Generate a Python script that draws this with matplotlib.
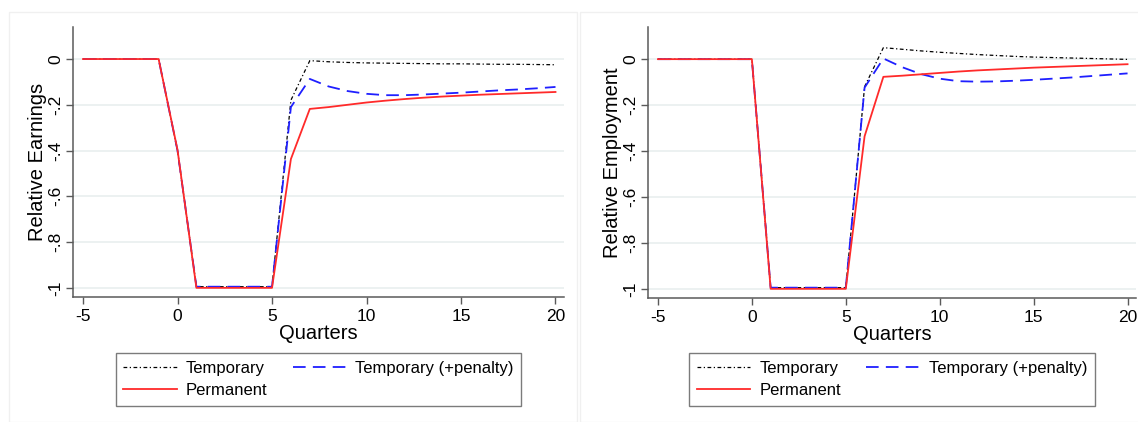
import numpy as np
import matplotlib
matplotlib.use("Agg")
import matplotlib.pyplot as plt
from matplotlib.patches import Rectangle

plt.rcParams['font.family'] = ['Liberation Sans', 'DejaVu Sans']
plt.rcParams['axes.unicode_minus'] = False

quarters = list(range(-5, 21))

# relative earnings
temp_earn = [0, 0, 0, 0, 0, -0.40, -0.995, -0.995, -0.995, -0.995, -0.995,
             -0.18, -0.007, -0.012, -0.015, -0.017, -0.018, -0.019, -0.020,
             -0.021, -0.021, -0.022, -0.023, -0.023, -0.024, -0.025]
pen_earn = [0, 0, 0, 0, 0, -0.40, -0.995, -0.995, -0.995, -0.995, -0.995,
            -0.21, -0.087, -0.120, -0.140, -0.152, -0.158, -0.158, -0.155,
            -0.151, -0.147, -0.142, -0.137, -0.133, -0.128, -0.122]
perm_earn = [0, 0, 0, 0, 0, -0.397, -1, -1, -1, -1, -1,
             -0.437, -0.218, -0.210, -0.200, -0.190, -0.182, -0.175, -0.169,
             -0.164, -0.160, -0.156, -0.153, -0.150, -0.147, -0.144]

# relative employment
temp_emp = [0, 0, 0, 0, 0, 0, -0.995, -0.995, -0.995, -0.995, -0.995,
            -0.12, 0.050, 0.043, 0.036, 0.030, 0.025, 0.020, 0.016,
            0.012, 0.009, 0.007, 0.005, 0.003, 0.001, -0.001]
pen_emp = [0, 0, 0, 0, 0, 0, -0.995, -0.995, -0.995, -0.995, -0.995,
           -0.124, 0.003, -0.035, -0.065, -0.085, -0.096, -0.098, -0.097,
           -0.094, -0.090, -0.085, -0.080, -0.074, -0.068, -0.062]
perm_emp = [0, 0, 0, 0, 0, 0, -1, -1, -1, -1, -1,
            -0.336, -0.077, -0.072, -0.066, -0.060, -0.054, -0.049, -0.045,
            -0.041, -0.037, -0.034, -0.031, -0.028, -0.025, -0.022]

yticks = [0, -0.2, -0.4, -0.6, -0.8, -1]
ytick_labels = ['0', '-.2', '-.4', '-.6', '-.8', '-1']
xticks = [-5, 0, 5, 10, 15, 20]

W, H = 1138, 422
fig = plt.figure(figsize=(W / 100, H / 100), dpi=100)

# faint panel frames
fig.patches.append(Rectangle((9 / W, 0), 568 / W, 1 - 12 / H, transform=fig.transFigure,
                             fill=False, edgecolor='#f0f0f0', lw=1))
fig.patches.append(Rectangle((580 / W, 0), 560 / W, 1 - 12 / H, transform=fig.transFigure,
                             fill=False, edgecolor='#f0f0f0', lw=1))

panels = [
    ([73, 297, 564, 27], 'Relative Earnings', temp_earn, pen_earn, perm_earn),
    ([648, 298, 1136, 27], 'Relative Employment', temp_emp, pen_emp, perm_emp),
]

spine_col = '#5a5a5a'
for (x0, y0, x1, y1), ylab, t, p, m in panels:
    ax = fig.add_axes([x0 / W, 1 - y0 / H, (x1 - x0) / W, (y0 - y1) / H])
    for y in yticks:
        ax.axhline(y, color='#e9efef', lw=1.2, zorder=0)
    l1, = ax.plot(quarters, t, color='black', lw=0.9, ls=(0, (3, 2, 1, 2)))
    l2, = ax.plot(quarters, p, color='#1f1fff', lw=1.3, ls=(0, (7, 4)))
    l3, = ax.plot(quarters, m, color='#ff2a2a', lw=1.3)
    ax.set_xlim(-5.53, 20.45)
    ax.set_ylim(-1.04, 0.14)
    ax.set_xticks(xticks)
    ax.set_yticks(yticks)
    ax.set_yticklabels(ytick_labels, rotation=90, va='center')
    ax.tick_params(labelsize=12.5, color=spine_col, length=5, width=1)
    ax.tick_params(axis='y', pad=2)
    for s in ['top', 'right']:
        ax.spines[s].set_visible(False)
    for s in ['left', 'bottom']:
        ax.spines[s].set_color(spine_col)
        ax.spines[s].set_linewidth(1.1)
    ax.set_ylabel(ylab, fontsize=14.5, labelpad=1)
    ax.set_xlabel('Quarters', fontsize=14.5, labelpad=0)
    cx = (x0 + x1) / 2 / W
    leg = ax.legend([l1, l3, l2], ['Temporary', 'Permanent', 'Temporary (+penalty)'],
                    ncol=2, loc='upper center', bbox_to_anchor=(cx, 1 - 353 / H),
                    bbox_transform=fig.transFigure, fontsize=12, frameon=True,
                    fancybox=False, handlelength=3.2, handletextpad=0.55,
                    columnspacing=1.5, labelspacing=0.45, borderpad=0.45,
                    borderaxespad=0)
    leg.get_frame().set_edgecolor(spine_col)
    leg.get_frame().set_linewidth(1.0)

fig.savefig('out.png', dpi=100)
